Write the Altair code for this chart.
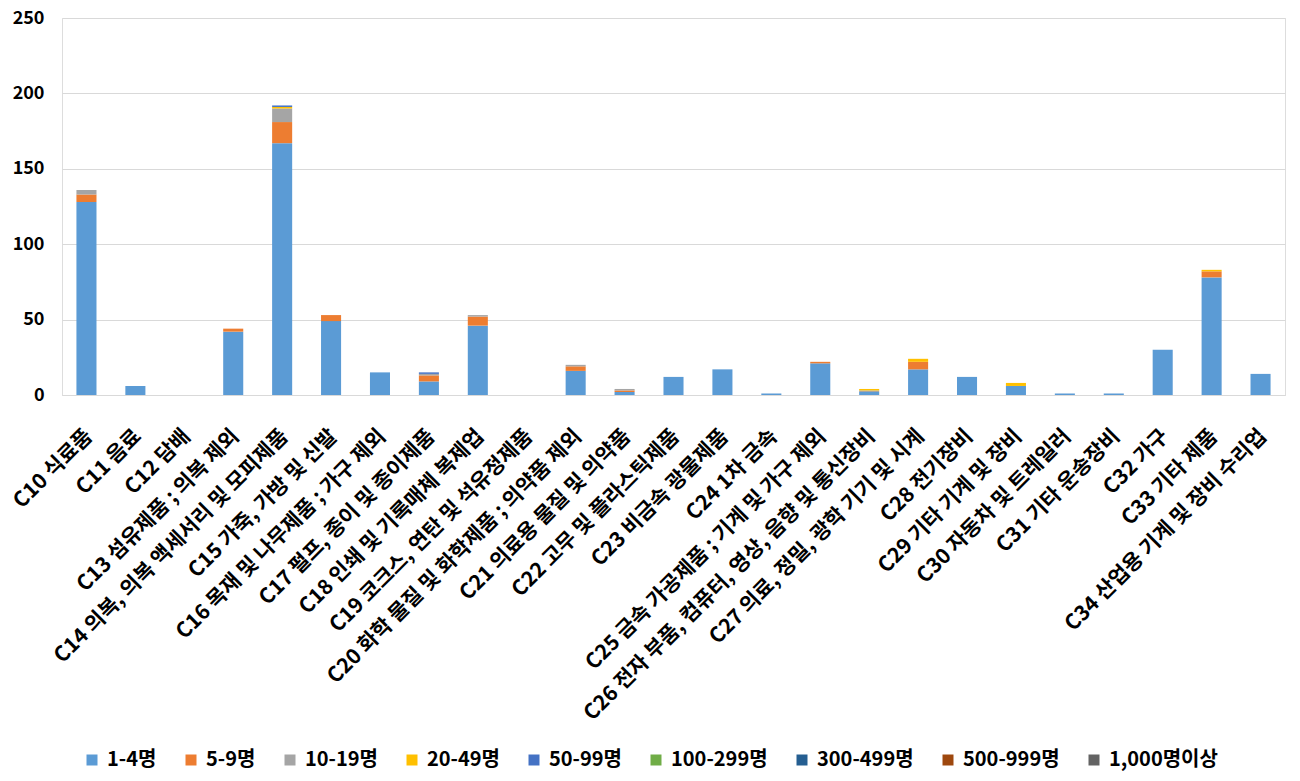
import altair as alt
import pandas as pd

categories = [
    "C10 식료품", "C11 음료", "C12 담배", "C13 섬유제품 ; 의복 제외",
    "C14 의복, 의복 액세서리 및 모피제품", "C15 가죽, 가방 및 신발",
    "C16 목재 및 나무제품 ; 가구 제외", "C17 펄프, 종이 및 종이제품",
    "C18 인쇄 및 기록매체 복제업", "C19 코크스, 연탄 및 석유정제품",
    "C20 화학 물질 및 화학제품 ; 의약품 제외", "C21 의료용 물질 및 의약품",
    "C22 고무 및 플라스틱제품", "C23 비금속 광물제품", "C24 1차 금속",
    "C25 금속 가공제품 ; 기계 및 가구 제외",
    "C26 전자 부품, 컴퓨터, 영상, 음향 및 통신장비",
    "C27 의료, 정밀, 광학 기기 및 시계", "C28 전기장비", "C29 기타 기계 및 장비",
    "C30 자동차 및 트레일러", "C31 기타 운송장비", "C32 가구", "C33 기타 제품",
    "C34 산업용 기계 및 장비 수리업",
]

series_names = ["1-4명", "5-9명", "10-19명", "20-49명", "50-99명",
                "100-299명", "300-499명", "500-999명", "1,000명이상"]
series_colors = ["#5B9BD5", "#ED7D31", "#A5A5A5", "#FFC000", "#4472C4",
                 "#70AD47", "#255E91", "#9E480E", "#636363"]

s_1_4 =    [128, 6, 0, 42, 167, 49, 15, 9, 46, 0, 16, 2, 12, 17, 1, 21, 2, 17, 12, 6, 1, 1, 30, 78, 14]
s_5_9 =    [5, 0, 0, 2, 14, 4, 0, 4, 6, 0, 3, 1, 0, 0, 0, 1, 0, 5, 0, 0, 0, 0, 0, 4, 0]
s_10_19 =  [3, 0, 0, 0, 9, 0, 0, 1, 1, 0, 1, 1, 0, 0, 0, 0, 1, 0, 0, 0, 0, 0, 0, 0, 0]
s_20_49 =  [0, 0, 0, 0, 1, 0, 0, 0, 0, 0, 0, 0, 0, 0, 0, 0, 1, 2, 0, 2, 0, 0, 0, 1, 0]
s_50_99 =  [0, 0, 0, 0, 1, 0, 0, 1, 0, 0, 0, 0, 0, 0, 0, 0, 0, 0, 0, 0, 0, 0, 0, 0, 0]
s_100_299 = [0] * 25
s_300_499 = [0] * 25
s_500_999 = [0] * 25
s_1000 =    [0] * 25

all_series = [s_1_4, s_5_9, s_10_19, s_20_49, s_50_99,
              s_100_299, s_300_499, s_500_999, s_1000]

rows = []
for si, (name, vals) in enumerate(zip(series_names, all_series)):
    for ci, (cat, v) in enumerate(zip(categories, vals)):
        rows.append({"category": cat, "series": name, "value": v, "order": si})
df = pd.DataFrame(rows)

FONT = "Noto Sans CJK KR"

chart = alt.Chart(df).mark_bar().encode(
    x=alt.X("category:N", sort=categories, title=None,
            scale=alt.Scale(paddingInner=0.59, paddingOuter=0.295),
            axis=alt.Axis(labelAngle=-45, labelFontSize=21, labelFontWeight="bold",
                          labelColor="#000000", labelFont=FONT, ticks=False,
                          domainColor="#D9D9D9", labelPadding=30, labelOffset=-5,
                          labelLimit=800, labelOverlap=False)),
    y=alt.Y("value:Q", title=None, stack="zero",
            scale=alt.Scale(domain=[0, 250], nice=False),
            axis=alt.Axis(values=[0, 50, 100, 150, 200, 250], labelFontSize=18,
                          labelFontWeight="bold", labelColor="#000000", labelFont=FONT,
                          ticks=False, domain=False, gridColor="#D9D9D9",
                          labelPadding=18)),
    color=alt.Color("series:N", sort=series_names, title=None,
                    scale=alt.Scale(domain=series_names, range=series_colors),
                    legend=alt.Legend(orient="none", legendX=20, legendY=732,
                                      direction="horizontal", columns=9,
                                      symbolType="square", symbolSize=121,
                                      symbolStrokeWidth=0,
                                      labelFontSize=20, labelFontWeight="bold",
                                      labelFont=FONT, labelColor="#000000",
                                      labelOffset=5, columnPadding=24,
                                      labelLimit=300)),
    order=alt.Order("order:Q", sort="ascending"),
).properties(
    width=1223, height=377,
    padding={"left": 54, "top": 10, "right": 7, "bottom": 378},
    autosize=alt.AutoSizeParams(type="none"),
).configure_view(stroke=None).configure(font=FONT)

chart.save("out.html", embed_options={"renderer": "svg", "actions": False})
